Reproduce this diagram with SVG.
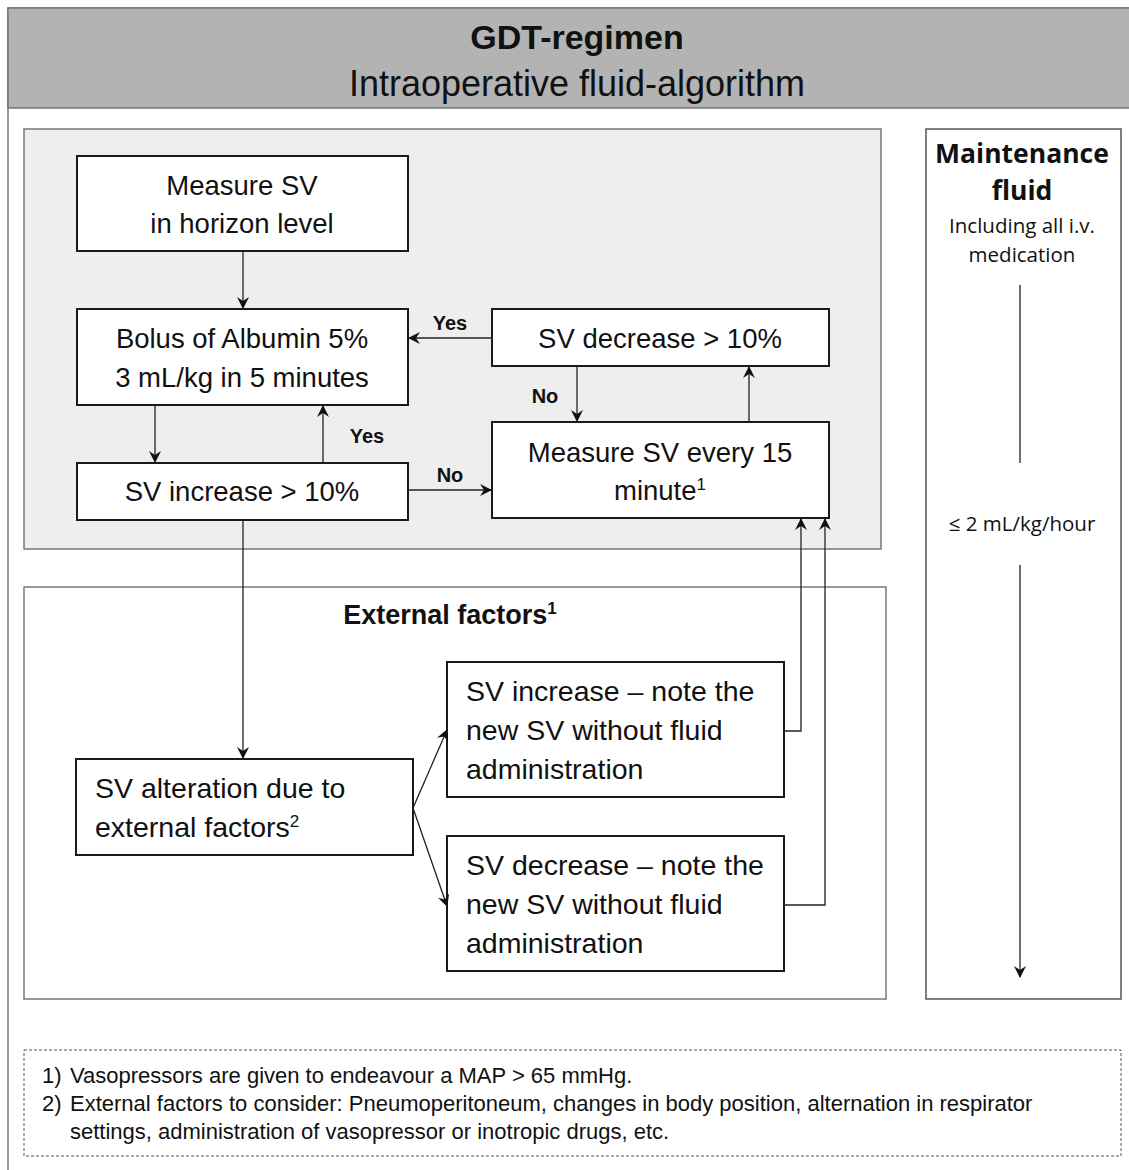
<svg xmlns="http://www.w3.org/2000/svg" width="1129" height="1170" viewBox="0 0 1129 1170">
<style>
.box{fill:#ffffff;stroke:#1a1a1a;stroke-width:2}
.t{font-family:"Liberation Sans",Arial,sans-serif;font-size:27.5px;fill:#111;text-anchor:middle}
.tl{font-family:"Liberation Sans",Arial,sans-serif;font-size:28.5px;fill:#111}
.lab{font-family:"Liberation Sans",Arial,sans-serif;font-size:20px;font-weight:bold;fill:#111;text-anchor:middle}
.c{fill:none;stroke:#222;stroke-width:1.3}
.m{font-family:"Open Sans","DejaVu Sans",sans-serif;fill:#111;text-anchor:middle}
.fn{font-family:"Liberation Sans",Arial,sans-serif;font-size:22px;fill:#111}
</style>
<defs>
<marker id="ah" viewBox="0 0 12 12" refX="11" refY="6" markerWidth="12" markerHeight="12" markerUnits="userSpaceOnUse" orient="auto">
<path d="M0,0 L12,6 L0,12 L4,6 Z" fill="#111"/>
</marker>
</defs>
<rect x="0" y="0" width="1129" height="1170" fill="#ffffff"/>
<g id="frame">
<rect x="8" y="8" width="1130" height="1170" fill="#ffffff" stroke="#777" stroke-width="1.5"/>
<rect x="8" y="8" width="1130" height="100" fill="#b3b3b3" stroke="#777" stroke-width="1.5"/>
<text x="577" y="49" font-family="'Liberation Sans',Arial,sans-serif" font-size="34" font-weight="bold" text-anchor="middle" fill="#111">GDT-regimen</text>
<text x="577" y="96" font-family="'Liberation Sans',Arial,sans-serif" font-size="36" text-anchor="middle" fill="#111">Intraoperative fluid-algorithm</text>
</g>
<g id="panel-gdt">
<rect x="24" y="129" width="857" height="420" fill="#eeeeee" stroke="#777" stroke-width="1.5"/>
</g>
<g id="panel-external">
<rect x="24" y="587" width="862" height="412" fill="#ffffff" stroke="#777" stroke-width="1.5"/>
<text x="450" y="624" font-family="'Liberation Sans',Arial,sans-serif" font-size="27" font-weight="bold" text-anchor="middle" fill="#111">External factors<tspan font-size="17" dy="-10">1</tspan></text>
</g>
<g id="n-measure">
<rect class="box" x="77" y="156" width="331" height="95"/>
<text class="t" x="242" y="195">Measure SV</text>
<text class="t" x="242" y="233">in horizon level</text>
</g>
<g id="n-bolus">
<rect class="box" x="77" y="309" width="331" height="96"/>
<text class="t" x="242" y="348">Bolus of Albumin 5%</text>
<text class="t" x="242" y="387">3 mL/kg in 5 minutes</text>
</g>
<g id="n-svdec">
<rect class="box" x="492" y="309" width="337" height="57"/>
<text class="t" x="660" y="348">SV decrease &gt; 10%</text>
</g>
<g id="n-svinc">
<rect class="box" x="77" y="463" width="331" height="57"/>
<text class="t" x="242" y="501">SV increase &gt; 10%</text>
</g>
<g id="n-measure15">
<rect class="box" x="492" y="422" width="337" height="96"/>
<text class="t" x="660" y="462">Measure SV every 15</text>
<text class="t" x="660" y="500">minute<tspan font-size="17" dy="-10">1</tspan></text>
</g>
<g id="n-alteration">
<rect class="box" x="76" y="759" width="337" height="96"/>
<text class="tl" x="95" y="798">SV alteration due to</text>
<text class="tl" x="95" y="837">external factors<tspan font-size="17" dy="-10">2</tspan></text>
</g>
<g id="n-incnote">
<rect class="box" x="447" y="662" width="337" height="135"/>
<text class="tl" x="466" y="701">SV increase – note the</text>
<text class="tl" x="466" y="740">new SV without fluid</text>
<text class="tl" x="466" y="779">administration</text>
</g>
<g id="n-decnote">
<rect class="box" x="447" y="836" width="337" height="135"/>
<text class="tl" x="466" y="875">SV decrease – note the</text>
<text class="tl" x="466" y="914">new SV without fluid</text>
<text class="tl" x="466" y="953">administration</text>
</g>
<g id="n-maintenance">
<rect x="926" y="129" width="195" height="870" fill="#ffffff" stroke="#555" stroke-width="1.5"/>
<text class="m" x="1022" y="163" font-size="26.5" font-weight="bold">Maintenance</text>
<text class="m" x="1022" y="200" font-size="26.5" font-weight="bold">fluid</text>
<text class="m" x="1022" y="233" font-size="20.5">Including all i.v.</text>
<text class="m" x="1022" y="262" font-size="20.5">medication</text>
<text class="m" x="1022" y="531" font-size="20.5">≤ 2 mL/kg/hour</text>
</g>
<g id="n-footnotes">
<rect x="24" y="1050" width="1097" height="106" fill="none" stroke="#555" stroke-width="1" stroke-dasharray="3,2"/>
<text class="fn" x="42" y="1083">1)</text>
<text class="fn" x="70" y="1083">Vasopressors are given to endeavour a MAP &gt; 65 mmHg.</text>
<text class="fn" x="42" y="1111">2)</text>
<text class="fn" x="70" y="1111">External factors to consider: Pneumoperitoneum, changes in body position, alternation in respirator</text>
<text class="fn" x="70" y="1139">settings, administration of vasopressor or inotropic drugs, etc.</text>
</g>
<g id="connectors">
<path class="c" d="M243,251 V308" marker-end="url(#ah)"/>
<path class="c" d="M492,338 H409" marker-end="url(#ah)"/>
<path class="c" d="M155,405 V462" marker-end="url(#ah)"/>
<path class="c" d="M323,463 V406" marker-end="url(#ah)"/>
<path class="c" d="M408,490 H491" marker-end="url(#ah)"/>
<path class="c" d="M577,366 V421" marker-end="url(#ah)"/>
<path class="c" d="M749,422 V367" marker-end="url(#ah)"/>
<path class="c" d="M243,520 V758" marker-end="url(#ah)"/>
<path class="c" d="M413,808 L447,730" marker-end="url(#ah)"/>
<path class="c" d="M413,808 L447,906" marker-end="url(#ah)"/>
<path class="c" d="M784,731 H801 V519" marker-end="url(#ah)"/>
<path class="c" d="M784,905 H825 V519" marker-end="url(#ah)"/>
<path class="c" d="M1020,285 V463"/>
<path class="c" d="M1020,565 V977" marker-end="url(#ah)"/>
<text class="lab" x="450" y="330">Yes</text>
<text class="lab" x="367" y="443">Yes</text>
<text class="lab" x="450" y="482">No</text>
<text class="lab" x="545" y="403">No</text>
</g>
</svg>
